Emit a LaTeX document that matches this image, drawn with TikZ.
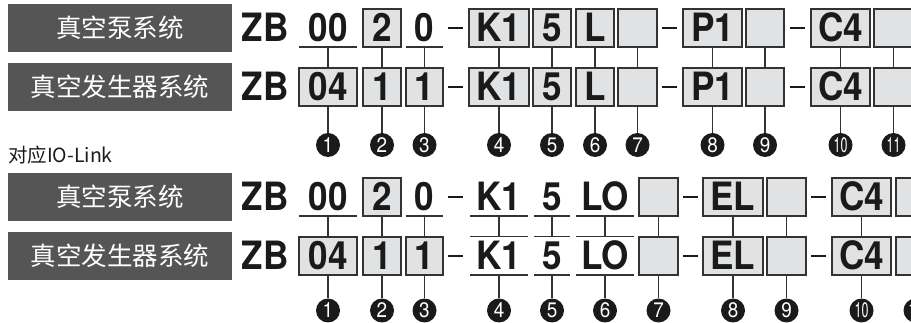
\documentclass[tikz,border=0pt]{standalone}
\usepackage{fontspec}
\usepackage{graphicx}
\newfontfamily\codefont[FakeStretch=0.9]{TeX Gyre Heros}
\newfontfamily\cjkfont{Noto Sans CJK SC}
\definecolor{boxfill}{HTML}{E1E2E4}
\definecolor{boxline}{HTML}{333333}
\definecolor{codetext}{HTML}{1A1A1A}
\definecolor{taggray}{HTML}{555555}
\newcommand{\circnum}[1]{\ifnum#1>9 \scalebox{0.66}[1]{#1}\else#1\fi}
\tikzset{
field/.style={inner sep=0, minimum height=38pt, text height=27.8pt, text depth=0pt,
  text=codetext, font={\codefont\bfseries\fontsize{39}{42}\selectfont}},
cbox/.style={field, draw=boxline, fill=boxfill, line width=1.4pt},
ruleline/.style={draw=boxline, line width=1.4pt},
uline/.style={field, append after command={(\tikzlastnode.south west) edge[ruleline] (\tikzlastnode.south east)}},
ouline/.style={uline, append after command={(\tikzlastnode.north west) edge[ruleline] (\tikzlastnode.north east)}},
hyph/.style={fill=codetext, minimum width=15pt, minimum height=2.6pt, inner sep=0},
tag/.style={fill=taggray, text=white, minimum width=224pt, minimum height=48pt, inner sep=0,
  font={\cjkfont\fontsize{25.5}{26}\selectfont}},
num/.style={circle, fill=codetext, text=white, minimum size=24pt, inner sep=0,
  font={\codefont\fontsize{21}{21}\selectfont}},
link/.style={draw=boxline, line width=1.3pt},
}
\begin{document}
\begin{tikzpicture}[x=1pt,y=-1pt]
    \useasboundingbox (0,0) rectangle (911,323);
    % standard series
    \node[tag] (tA) at (120,28) {真空泵系统};
    \node[tag] (tB) at (120,87) {真空发生器系统};
    \node[field] (zbA) at (265,28) {ZB};
    \node[field] (zbB) at (265,87) {ZB};
    \foreach \i/\x/\w/\sa/\ta/\sb/\tb in {1/328/58/uline/00/cbox/04,2/382/38/cbox/2/cbox/1,3/424.5/37/uline/0/cbox/1,
        4/499/60/cbox/K1/cbox/K1,5/552/38/cbox/5/cbox/5,6/595/38/cbox/L/cbox/L,7/637.5/39/cbox/{}/cbox/{},
        8/712.5/59/cbox/P1/cbox/P1,9/765/38/cbox/{}/cbox/{},10/840.5/59/cbox/C4/cbox/C4,11/893.5/39/cbox/{}/cbox/{}} {
        \node[\sa, minimum width=\w pt] (a\i) at (\x,28) {\ta};
        \node[\sb, minimum width=\w pt] (b\i) at (\x,87) {\tb};
        \node[num] (na\i) at (\x,145) {\circnum{\i}};
        \draw[link] (a\i) -- (b\i);
        \draw[link] (b\i) -- (na\i);
    }
    \foreach \h/\x in {1/455.5,2/669.5,3/797.5} {
        \node[hyph] (hA\h) at (\x,28) {};
        \node[hyph] (hB\h) at (\x,87) {};
    }
    % IO-Link series
    \node[anchor=west, text=codetext, inner sep=0, font={\cjkfont\fontsize{19.5}{20}\selectfont}] (io) at (8,155) {对应IO-Link};
    \node[tag] (tC) at (120,197) {真空泵系统};
    \node[tag] (tD) at (120,256) {真空发生器系统};
    \node[field] (zbC) at (265,197) {ZB};
    \node[field] (zbD) at (265,256) {ZB};
    \foreach \i/\x/\w/\sc/\tc/\sd/\td in {1/328/58/uline/00/cbox/04,2/382/38/cbox/2/cbox/1,3/424.5/37/uline/0/cbox/1,
        4/499/58/uline/K1/ouline/K1,5/552/36/uline/5/ouline/5,6/605/58/uline/LO/ouline/LO,7/658.5/39/cbox/{}/cbox/{},
        8/733/60/cbox/EL/cbox/EL,9/786.5/39/cbox/{}/cbox/{},10/861.5/59/cbox/C4/cbox/C4,11/915.5/39/cbox/{}/cbox/{}} {
        \node[\sc, minimum width=\w pt] (c\i) at (\x,197) {\tc};
        \node[\sd, minimum width=\w pt] (d\i) at (\x,256) {\td};
        \node[num] (nc\i) at (\x,310.5) {\circnum{\i}};
        \draw[link] (c\i) -- (d\i);
        \draw[link] (d\i) -- (nc\i);
    }
    \foreach \h/\x in {1/455.5,2/690.5,3/818.5} {
        \node[hyph] (hC\h) at (\x,197) {};
        \node[hyph] (hD\h) at (\x,256) {};
    }
\end{tikzpicture}
\end{document}
